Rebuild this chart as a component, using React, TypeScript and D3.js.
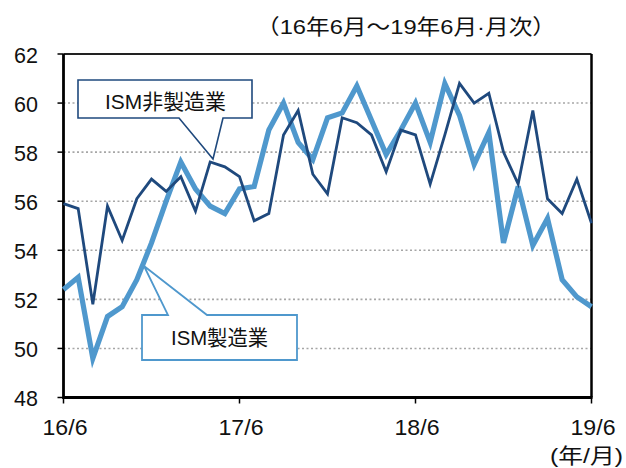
import React from "react";
import * as d3 from "d3";

const xTickLabels = ["16/6", "17/6", "18/6", "19/6"];
const xTickIndex = [0, 12, 24, 36];
const yTicks = [48, 50, 52, 54, 56, 58, 60, 62];

// ISM 非製造業 (16/6 .. 19/6)
const nonMfg = [
  55.9, 55.7, 51.8, 55.8, 54.4, 56.1, 56.9, 56.4, 57.0, 55.6, 57.6, 57.4,
  57.0, 55.2, 55.5, 58.7, 59.7, 57.1, 56.3, 59.4, 59.2, 58.7, 57.2, 58.9,
  58.7, 56.7, 58.7, 60.8, 60.0, 60.4, 58.0, 56.7, 59.7, 56.1, 55.5, 56.9, 55.1,
];
// ISM 製造業
const mfg = [
  52.4, 52.9, 49.6, 51.3, 51.7, 52.8, 54.3, 56.0, 57.6, 56.5, 55.8, 55.5,
  56.5, 56.6, 58.9, 60.0, 58.4, 57.7, 59.4, 59.6, 60.7, 59.3, 57.9, 58.9,
  60.0, 58.4, 60.8, 59.5, 57.5, 58.8, 54.3, 56.6, 54.2, 55.3, 52.8, 52.1, 51.7,
];

const titleText = "（16年6月～19年6月·月次）";
const unitText = "(年/月)";
const labelNonMfg = "ISM非製造業";
const labelMfg = "ISM製造業";

const DARK = "#1f497d";
const LIGHT = "#4f98cd";
const FONT = "'Liberation Sans', Arial, 'Noto Sans CJK JP', sans-serif";

export default function App() {
  const W = 626;
  const H = 468;
  const x = d3.scaleLinear().domain([0, 36]).range([63.5, 591.5]);
  const y = d3.scaleLinear().domain([48, 62]).range([397.5, 54]);
  const line = d3
    .line<number>()
    .x((_, i) => x(i))
    .y((d) => y(d));

  return (
    <svg
      width={W}
      height={H}
      style={{ position: "absolute", left: 0, top: 0, background: "#fff" }}
      fontFamily={FONT}
    >
      <rect x={0} y={0} width={W} height={H} fill="#fff" />
      {/* title */}
      <text
        x={256}
        y={33.5}
        fontSize={21}
        fill="#111"
        textLength={300}
        lengthAdjust="spacingAndGlyphs"
      >
        {titleText}
      </text>
      {/* gridlines */}
      {yTicks
        .filter((t) => t > 48 && t < 62)
        .map((t) => (
          <line
            key={t}
            x1={x(0)}
            x2={x(36)}
            y1={y(t)}
            y2={y(t)}
            stroke="#a6a6a6"
            strokeWidth={1.6}
            strokeDasharray="2,2.5"
          />
        ))}
      {/* top & right frame */}
      <line x1={x(0)} x2={x(36)} y1={y(62)} y2={y(62)} stroke="#222" strokeWidth={2} />
      <line x1={x(36)} x2={x(36)} y1={y(62)} y2={y(48)} stroke="#000" strokeWidth={2.5} />
      {/* y ticks & labels */}
      {yTicks.map((t) => (
        <g key={t}>
          <line x1={x(0) - 6} x2={x(0)} y1={y(t)} y2={y(t)} stroke="#000" strokeWidth={1.5} />
          <text
            x={38}
            y={y(t) + 1}
            dy="0.36em"
            textAnchor="end"
            fontSize={21.5}
            fill="#111"
          >
            {t}
          </text>
        </g>
      ))}
      {/* x ticks & labels */}
      {xTickIndex.map((idx, k) => (
        <g key={idx}>
          <line x1={x(idx)} x2={x(idx)} y1={y(48)} y2={y(48) + 6} stroke="#000" strokeWidth={1.5} />
          <text
            x={x(idx) + 1.5}
            y={435}
            textAnchor="middle"
            fontSize={21.5}
            fill="#111"
            textLength={45}
            lengthAdjust="spacingAndGlyphs"
          >
            {xTickLabels[k]}
          </text>
        </g>
      ))}
      <text
        x={550}
        y={463}
        fontSize={21}
        fill="#111"
        textLength={73}
        lengthAdjust="spacingAndGlyphs"
      >
        {unitText}
      </text>
      {/* axes */}
      <line x1={x(0)} x2={x(0)} y1={y(62)} y2={y(48) + 1.5} stroke="#000" strokeWidth={2.8} />
      <line x1={x(0)} x2={x(36) + 1} y1={y(48)} y2={y(48)} stroke="#000" strokeWidth={2.8} />
      {/* series */}
      <path d={line(mfg) || ""} fill="none" stroke={LIGHT} strokeWidth={5.2} strokeLinejoin="miter" />
      <path d={line(nonMfg) || ""} fill="none" stroke={DARK} strokeWidth={2.8} strokeLinejoin="miter" />
      {/* callout: non-manufacturing */}
      <path
        d="M78,80 L252,80 L252,118 L223,118 L213,159 L179,118 L78,118 Z"
        fill="#fff"
        stroke={DARK}
        strokeWidth={1.6}
      />
      <text
        x={105}
        y={101.5}
        dy="0.36em"
        fontSize={21}
        fill="#111"
        textLength={121}
        lengthAdjust="spacingAndGlyphs"
      >
        {labelNonMfg}
      </text>
      {/* callout: manufacturing */}
      <path
        d="M142,315 L168,315 L144,266 L207,315 L297,315 L297,360 L142,360 Z"
        fill="#fff"
        stroke={LIGHT}
        strokeWidth={1.8}
      />
      <text
        x={171}
        y={337.5}
        dy="0.36em"
        fontSize={21}
        fill="#111"
        textLength={97}
        lengthAdjust="spacingAndGlyphs"
      >
        {labelMfg}
      </text>
    </svg>
  );
}
